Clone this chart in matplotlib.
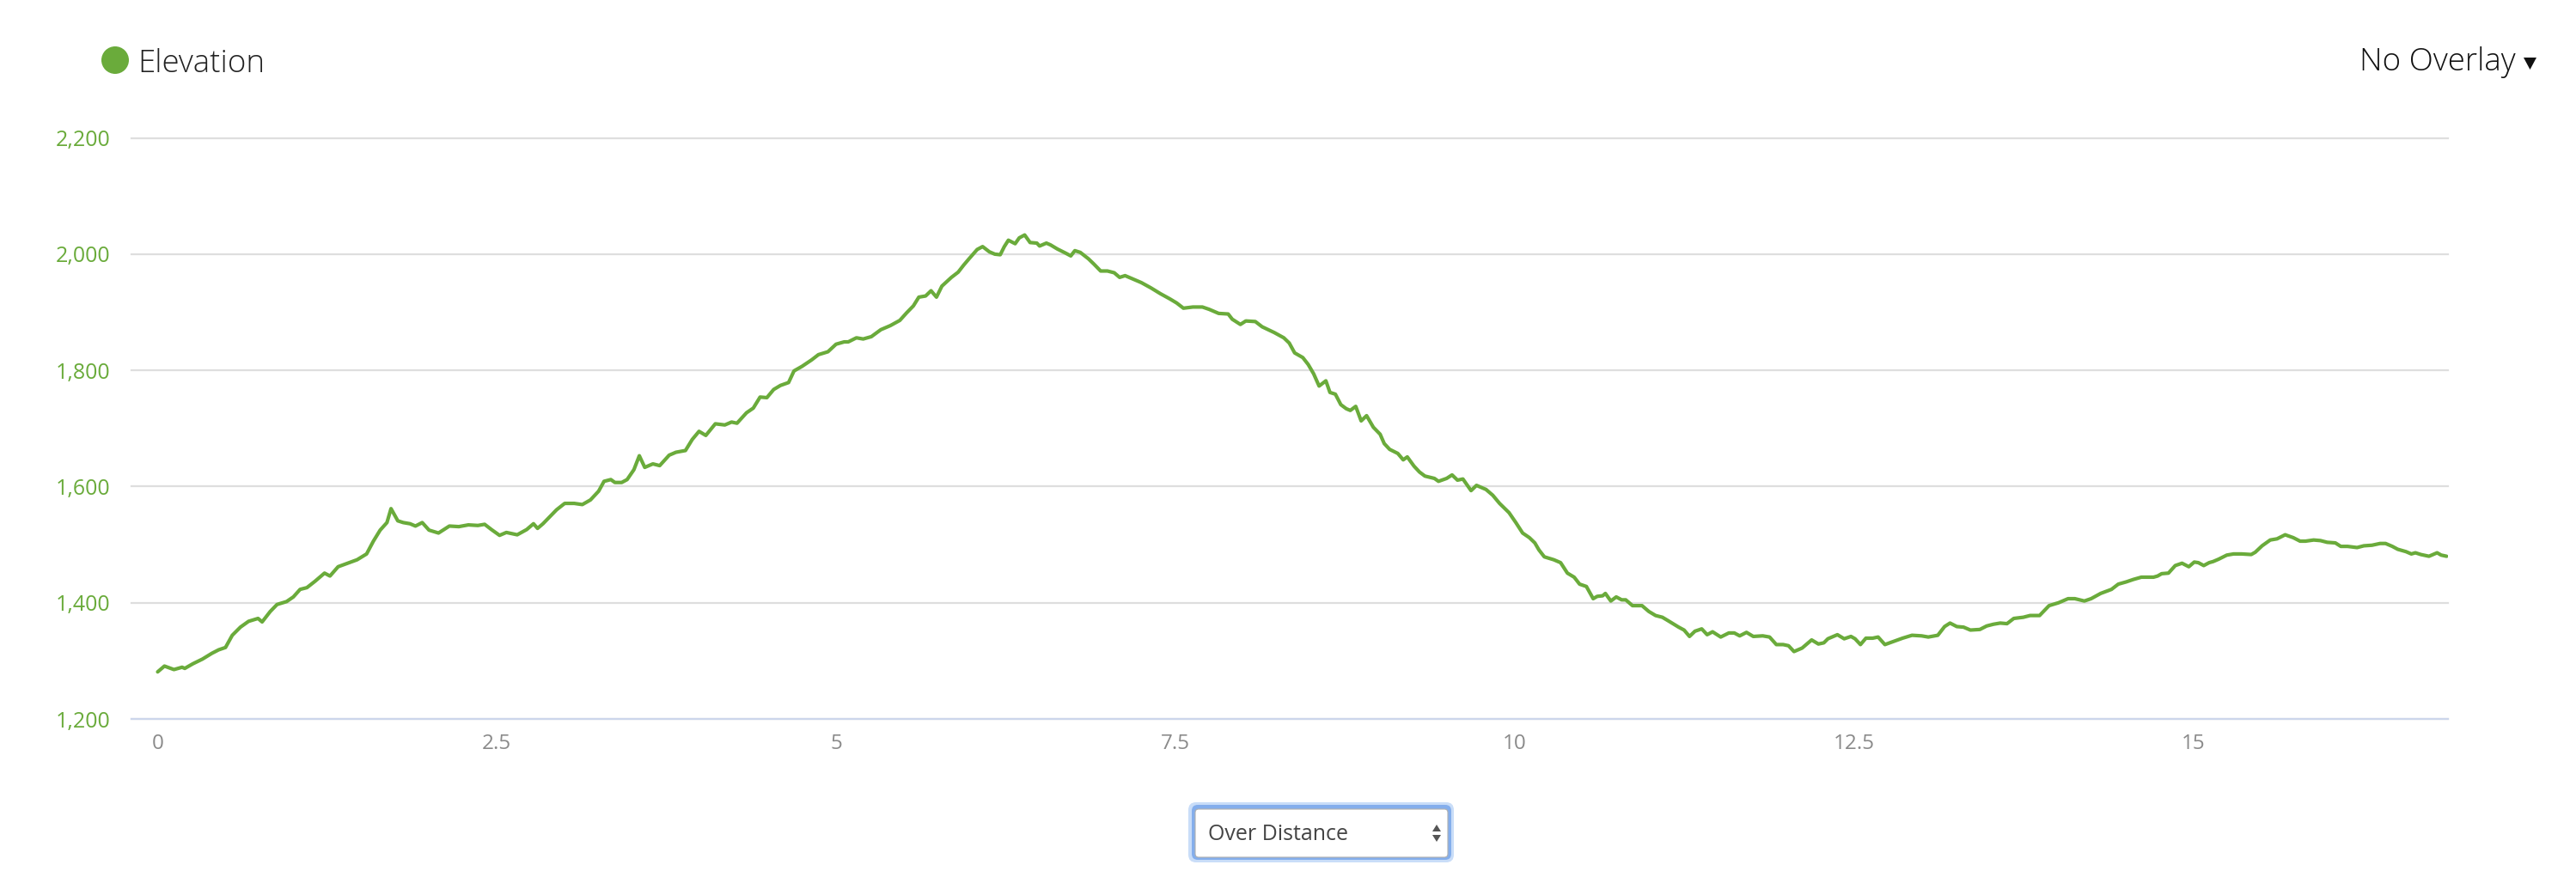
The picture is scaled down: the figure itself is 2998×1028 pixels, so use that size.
import matplotlib
matplotlib.use("Agg")
import matplotlib.pyplot as plt
from matplotlib.patches import Circle, FancyBboxPatch, Polygon

# ---------------- data ----------------
distance_km = [
    0, 0.05, 0.12, 0.18, 0.2, 0.26, 0.33, 0.4, 0.45, 0.5, 0.55, 0.61, 0.67, 0.74, 0.77, 0.83, 0.88, 0.95,
    1.0, 1.05, 1.1, 1.16, 1.23, 1.27, 1.33, 1.4, 1.47, 1.54, 1.59, 1.64, 1.69, 1.72, 1.77, 1.81, 1.86, 1.9, 1.95,
    2.0, 2.07, 2.15, 2.22, 2.29, 2.36, 2.41, 2.46, 2.52, 2.57, 2.65, 2.72, 2.77, 2.8, 2.84, 2.89, 2.94,
    3.0, 3.07, 3.13, 3.19, 3.25, 3.29, 3.34, 3.37, 3.42, 3.46, 3.51, 3.55, 3.59, 3.65, 3.7, 3.77, 3.82, 3.89, 3.94,
    3.99, 4.04, 4.11, 4.18, 4.23, 4.27, 4.34, 4.39, 4.44, 4.49, 4.54, 4.59, 4.65, 4.69, 4.75, 4.82, 4.87, 4.94,
    5.0, 5.06, 5.09, 5.15, 5.2, 5.26, 5.33, 5.4, 5.47, 5.52, 5.57, 5.61, 5.66, 5.7, 5.74, 5.78, 5.85, 5.9, 5.94, 5.98,
    6.04, 6.08, 6.13, 6.17, 6.21, 6.24, 6.27, 6.32, 6.35, 6.39, 6.43, 6.48, 6.5, 6.55, 6.58, 6.63, 6.69, 6.73, 6.76, 6.8, 6.86, 6.9, 6.95,
    7.0, 7.05, 7.09, 7.13, 7.18, 7.25, 7.32, 7.39, 7.46, 7.51, 7.56, 7.63, 7.7, 7.75, 7.82, 7.89, 7.92, 7.98,
    8.02, 8.09, 8.14, 8.23, 8.3, 8.34, 8.38, 8.44, 8.48, 8.52, 8.56, 8.61, 8.64, 8.68, 8.72, 8.76, 8.79, 8.83, 8.87, 8.91, 8.96,
    9.01, 9.04, 9.08, 9.14, 9.18, 9.21, 9.26, 9.3, 9.34, 9.41, 9.44, 9.5, 9.54, 9.58, 9.62, 9.68, 9.72, 9.79, 9.84, 9.89, 9.96,
    10.01, 10.06, 10.11, 10.15, 10.18, 10.22, 10.29, 10.34, 10.39, 10.44, 10.48, 10.53, 10.58, 10.61, 10.65, 10.67, 10.71, 10.75, 10.79, 10.82, 10.87, 10.94, 10.99,
    11.04, 11.09, 11.14, 11.21, 11.25, 11.29, 11.33, 11.38, 11.42, 11.46, 11.52, 11.58, 11.62, 11.66, 11.71, 11.76, 11.83, 11.88, 11.93, 11.98,
    12.02, 12.06, 12.12, 12.19, 12.24, 12.28, 12.31, 12.38, 12.43, 12.48, 12.51, 12.55, 12.59, 12.64, 12.68, 12.73, 12.79, 12.86, 12.93,
    13.0, 13.05, 13.12, 13.17, 13.21, 13.26, 13.31, 13.36, 13.43, 13.48, 13.53, 13.58, 13.63, 13.68, 13.75, 13.8, 13.87, 13.94,
    14.01, 14.08, 14.13, 14.2, 14.25, 14.32, 14.4, 14.45, 14.51, 14.56, 14.62, 14.66, 14.71, 14.74, 14.77, 14.82, 14.87, 14.92, 14.97,
    15.01, 15.04, 15.08, 15.12, 15.15, 15.19, 15.25, 15.3, 15.36, 15.43, 15.46, 15.51, 15.57, 15.62, 15.68, 15.74, 15.79, 15.83, 15.89, 15.94, 15.99,
    16.05, 16.09, 16.14, 16.21, 16.26, 16.32, 16.38, 16.42, 16.47, 16.51, 16.57, 16.61, 16.64, 16.68, 16.74, 16.8, 16.83, 16.87,
]
elevation_m = [
    1281, 1291, 1285, 1289, 1287, 1295, 1303, 1313, 1319, 1323, 1344, 1358, 1368, 1373, 1367, 1385, 1397, 1402,
    1410, 1423, 1426, 1437, 1451, 1446, 1462, 1468, 1474, 1484, 1506, 1525, 1538, 1562, 1541, 1538, 1536, 1532, 1538,
    1525, 1520, 1532, 1531, 1534, 1533, 1535, 1526, 1516, 1521, 1517, 1526, 1536, 1528, 1536, 1548, 1560,
    1571, 1571, 1569, 1577, 1592, 1609, 1612, 1607, 1607, 1612, 1629, 1653, 1633, 1639, 1636, 1654, 1659, 1662, 1681,
    1695, 1688, 1708, 1706, 1711, 1709, 1727, 1735, 1754, 1753, 1767, 1774, 1779, 1799, 1807, 1818, 1827, 1832,
    1845, 1849, 1849, 1856, 1854, 1858, 1870, 1877, 1886, 1899, 1911, 1926, 1928, 1937, 1926, 1945, 1960, 1969, 1981, 1992,
    2008, 2013, 2004, 2000, 1999, 2013, 2024, 2018, 2028, 2033, 2020, 2019, 2014, 2019, 2016, 2009, 2002, 1997, 2006, 2003, 1992, 1983, 1971,
    1971, 1968, 1960, 1963, 1958, 1951, 1942, 1932, 1923, 1916, 1907, 1909, 1909, 1905, 1898, 1897, 1888, 1879,
    1885, 1884, 1875, 1865, 1856, 1847, 1830, 1822, 1810, 1794, 1773, 1782, 1762, 1759, 1741, 1734, 1731, 1738, 1713, 1722, 1702,
    1690, 1674, 1664, 1657, 1646, 1651, 1635, 1625, 1618, 1614, 1609, 1614, 1620, 1611, 1613, 1593, 1602, 1595, 1585, 1571, 1555,
    1538, 1520, 1512, 1503, 1491, 1479, 1474, 1469, 1451, 1444, 1432, 1428, 1407, 1411, 1412, 1416, 1403, 1410, 1405, 1405, 1395, 1395, 1385,
    1378, 1375, 1368, 1358, 1353, 1342, 1351, 1355, 1345, 1350, 1341, 1348, 1348, 1343, 1349, 1342, 1343, 1341, 1328, 1328,
    1326, 1316, 1322, 1336, 1329, 1331, 1338, 1345, 1338, 1342, 1338, 1328, 1339, 1339, 1341, 1328, 1333, 1339, 1344,
    1343, 1341, 1344, 1359, 1365, 1359, 1358, 1353, 1354, 1360, 1363, 1365, 1364, 1373, 1375, 1378, 1378, 1395,
    1400, 1407, 1407, 1403, 1407, 1416, 1423, 1432, 1436, 1440, 1444, 1444, 1444, 1446, 1450, 1451, 1464, 1468, 1462,
    1470, 1469, 1464, 1469, 1471, 1475, 1482, 1484, 1484, 1483, 1487, 1498, 1508, 1510, 1517, 1512, 1506, 1506, 1508, 1507, 1504,
    1503, 1497, 1497, 1495, 1498, 1499, 1502, 1502, 1497, 1492, 1488, 1484, 1486, 1483, 1480, 1486, 1482, 1480,
]
assert len(distance_km) == len(elevation_m)

x_ticks = [0, 2.5, 5, 7.5, 10, 12.5, 15]
x_tick_labels = ["0", "2.5", "5", "7.5", "10", "12.5", "15"]
y_ticks = [1200, 1400, 1600, 1800, 2000, 2200]
y_tick_labels = ["1,200", "1,400", "1,600", "1,800", "2,000", "2,200"]

series_name = "Elevation"
overlay_label = "No Overlay"
select_label = "Over Distance"

# ---------------- style ----------------
GREEN = "#6aab3b"
W, H = 2998, 1028
plt.rcParams["font.family"] = ["Open Sans", "DejaVu Sans"]

fig = plt.figure(figsize=(W / 100, H / 100), dpi=100)
fig.patch.set_facecolor("white")

# overlay axes in pixel coordinates for the page decorations
ov = fig.add_axes([0, 0, 1, 1])
ov.set_xlim(0, W)
ov.set_ylim(H, 0)
ov.axis("off")

# main chart axes
left_px, right_px, top_px, bottom_px = 153, 2849, 160.6, 837
ax = fig.add_axes([left_px / W, 1 - bottom_px / H,
                   (right_px - left_px) / W, (bottom_px - top_px) / H])
ax.set_facecolor("none")
ax.plot(distance_km, elevation_m, color=GREEN, lw=3.0, solid_joinstyle="round",
        solid_capstyle="round", zorder=3)

ax.set_xlim(-0.193, 16.88)
ax.set_ylim(1200, 2200)
ax.set_xticks(x_ticks)
ax.set_xticklabels(x_tick_labels)
ax.set_yticks(y_ticks)
ax.set_yticklabels(y_tick_labels)
ax.grid(axis="y", color="#dedede", lw=1.6, zorder=0)
for gl in ax.get_ygridlines():
    gl.set_clip_on(False)
ax.set_axisbelow(True)
for s in ["top", "left", "right"]:
    ax.spines[s].set_visible(False)
ax.spines["bottom"].set_color("#ccd6eb")
ax.spines["bottom"].set_linewidth(1.6)
ax.spines["bottom"].set_zorder(2)
ax.tick_params(axis="y", length=0, pad=18, labelsize=18, labelcolor=GREEN)
ax.tick_params(axis="x", length=0, pad=12, labelsize=17.5, labelcolor="#8a8a8a")
for lab in ax.get_yticklabels():
    lab.set_fontweight("medium")

# legend item
ov.add_patch(Circle((134, 70), 16, color=GREEN, lw=0))
ov.text(160, 84, series_name, fontsize=26.5, fontweight="light", color="#222222",
        ha="left", va="baseline")

# "No Overlay" menu
ov.text(2928, 82, overlay_label, fontsize=26.5, fontweight="light", color="#111111",
        ha="right", va="baseline")
ov.add_patch(Polygon([(2937, 67), (2952, 67), (2944.5, 81)], closed=True, color="#111111", lw=0))

# dropdown select
ov.add_patch(FancyBboxPatch((1383, 934), 309, 70, boxstyle="round,pad=0,rounding_size=9",
                            facecolor="#c9ddf8", edgecolor="none"))
ov.add_patch(FancyBboxPatch((1387, 937), 302, 64, boxstyle="round,pad=0,rounding_size=7",
                            facecolor="#84aeec", edgecolor="none"))
ov.add_patch(FancyBboxPatch((1391, 942), 294, 56, boxstyle="round,pad=0,rounding_size=4",
                            facecolor="white", edgecolor="#b0b0b0", lw=0.8))
ov.text(1406, 978, select_label, fontsize=18, color="#444444", ha="left", va="baseline")
ov.add_patch(Polygon([(1667, 968), (1677, 968), (1672, 960)], closed=True, color="#555555", lw=0))
ov.add_patch(Polygon([(1667, 972), (1677, 972), (1672, 980)], closed=True, color="#555555", lw=0))

fig.savefig("out.png", dpi=100, facecolor="white")
